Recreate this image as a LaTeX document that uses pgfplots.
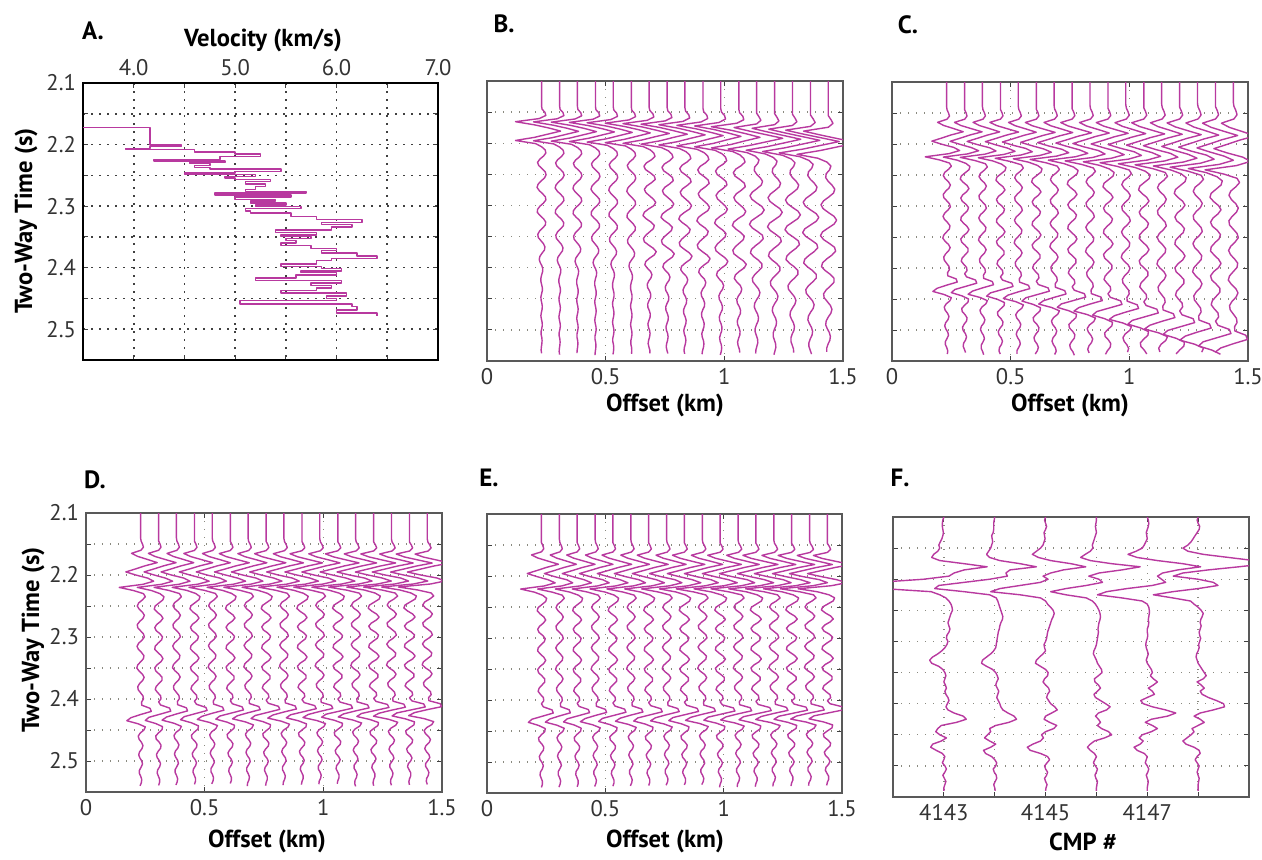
\documentclass[border=0pt]{standalone}
\usepackage{fontspec}
\setmainfont{PT Sans}
\usepackage{pgfplots}
\pgfplotsset{compat=1.18}
\usepackage{pgfplotstable}
\definecolor{wig}{HTML}{B8399F}
\definecolor{dotgrid}{HTML}{8A8A80}

% wiggle templates, amplitudes in 0.001 km
\pgfplotstableread{
t Bn Bm Bf
2.000 0 0 0
2.100 0 0 0
2.140 0 0 0
2.145 2 3 0
2.150 14 16 10
2.155 18 20 18
2.160 -10 -8 0
2.165 -110 -110 -95
2.170 -30 -30 -30
2.175 30 30 40
2.180 80 85 110
2.185 25 25 40
2.190 -30 -30 -30
2.195 -110 -110 -120
2.200 -25 -25 -40
2.205 0 5 -5
2.210 15 20 10
2.215 18 25 5
2.220 8 10 -8
2.225 -8 -12 -10
2.230 -17 -22 0
2.235 -12 -15 15
2.240 2 5 25
2.245 15 22 20
2.250 19 26 2
2.255 12 10 -18
2.260 -3 -10 -28
2.265 -15 -20 -20
2.270 -19 -14 0
2.275 -10 2 22
2.280 4 18 32
2.285 16 28 22
2.290 18 20 0
2.295 8 -2 -22
2.300 -7 -20 -30
2.305 -17 -26 -18
2.310 -18 -12 4
2.315 -6 8 24
2.320 8 22 28
2.325 17 18 14
2.330 16 2 -6
2.335 4 -14 -22
2.340 -9 -24 -26
2.345 -16 -20 -12
2.350 -14 -2 8
2.355 -3 18 22
2.360 8 30 22
2.365 14 22 8
2.370 12 2 -8
2.375 2 -14 -18
2.380 -7 -18 -16
2.385 -10 -8 -4
2.390 -6 6 8
2.395 1 12 14
2.400 5 8 10
2.405 4 -2 0
2.410 0 -8 -8
2.415 -3 -6 -10
2.420 -3 2 -4
2.425 0 7 4
2.430 3 6 8
2.435 3 -1 6
2.440 0 -6 -1
2.445 -3 -5 -6
2.450 -2 1 -6
2.455 1 5 -1
2.460 3 4 4
2.465 2 -1 5
2.470 -1 -5 1
2.475 -3 -3 -3
2.480 -1 2 -4
2.485 2 4 -1
2.490 3 2 3
2.495 1 -2 3
2.500 -2 -4 0
2.505 -2 -1 -2
2.510 1 3 -2
2.515 2 3 1
2.520 1 0 2
2.525 -1 -3 1
2.530 -2 -2 -1
2.535 0 1 -1
2.540 2 2 1
2.545 1 1 1
2.550 0 0 0
2.560 0 0 0
}\tabB

\pgfplotstableread{
t W1 W2
2.000 0 0
2.100 0 0
2.140 0 0
2.145 2 0
2.150 8 6
2.155 12 10
2.160 2 0
2.165 -38 -42
2.170 -12 -15
2.175 30 28
2.180 70 72
2.185 20 22
2.190 -20 -18
2.195 -62 -60
2.200 -20 -18
2.205 30 28
2.210 55 58
2.215 10 12
2.220 -90 -88
2.225 -30 -30
2.230 12 5
2.235 20 22
2.240 8 18
2.245 -8 2
2.250 -14 -14
2.255 -6 -18
2.260 8 -6
2.265 16 10
2.270 10 18
2.275 -4 8
2.280 -14 -8
2.285 -12 -16
2.290 0 -10
2.295 12 6
2.300 16 16
2.305 6 12
2.310 -8 -2
2.315 -15 -14
2.320 -9 -16
2.325 4 -4
2.330 14 10
2.335 12 18
2.340 0 10
2.345 -12 -6
2.350 -16 -16
2.355 -6 -12
2.360 8 2
2.365 15 14
2.370 9 14
2.375 -4 2
2.380 -12 -10
2.385 -10 -14
2.390 0 -4
2.395 10 8
2.400 12 10
2.405 4 0
2.410 5 8
2.415 40 45
2.420 45 50
2.425 0 5
2.430 -40 -40
2.435 -58 -55
2.440 -10 -12
2.445 20 16
2.450 14 14
2.455 -2 0
2.460 -10 -12
2.465 -6 -10
2.470 4 2
2.475 10 10
2.480 6 8
2.485 -4 -2
2.490 -8 -9
2.495 -3 -6
2.500 5 3
2.505 8 8
2.510 2 4
2.515 -5 -4
2.520 -5 -6
2.525 1 -1
2.530 5 4
2.535 3 4
2.540 -2 0
2.545 -3 -2
2.550 0 0
2.560 0 0
}\tabW

% stacked traces, amplitudes in 0.01 CMP
\pgfplotstableread{
t f1 f2 f3 f4 f5 f6
2.000 0 0 0 0 0 0
2.100 0 0 0 0 0 0
2.105 -2 -1 -2 0 2 -2
2.110 -3 -2 0 -1 3 0
2.115 -3 -2 2 -2 2 3
2.120 -2 -2 0 -1 0 2
2.125 -1 -3 -3 0 -2 -2
2.130 -2 -6 -2 -2 -1 -6
2.135 -4 -5 -1 -4 0 -10
2.140 -7 -4 -3 -6 -3 -14
2.145 -10 -6 -5 -8 -6 -20
2.150 -8 -8 -10 -7 -10 -30
2.155 -12 -12 -18 -12 -22 -20
2.160 -20 -16 -26 -22 -38 10
2.165 -24 -10 -14 -31 -20 60
2.170 -8 10 10 -12 20 110
2.175 40 50 50 30 70 135
2.180 85 82 79 86 105 80
2.185 40 30 35 50 60 20
2.190 20 22 10 5 30 -30
2.195 10 25 -5 -15 20 -49
2.200 -40 -10 5 5 28 0
2.205 -130 -60 -10 12 36 30
2.210 -170 -110 -50 -20 10 39
2.215 -120 -118 -90 -60 -40 0
2.220 -25 -60 -108 -90 -80 -50
2.225 -8 -10 -50 -60 -98 -88
2.230 4 3 -10 -20 -50 -50
2.235 10 6 0 -8 -10 -15
2.240 14 8 4 -2 0 -8
2.245 16 10 10 2 3 0
2.250 17 12 15 5 4 6
2.255 14 14 17 7 4 10
2.260 12 16 15 8 3 8
2.265 10 15 12 7 2 5
2.270 8 12 10 5 3 4
2.275 10 10 8 4 2 6
2.280 12 9 6 3 0 4
2.285 10 7 4 4 0 2
2.290 6 6 3 3 1 3
2.295 5 5 2 2 0 5
2.300 8 4 0 1 -2 3
2.305 6 3 -3 0 -3 1
2.310 2 2 -2 -2 -2 2
2.315 -4 -2 0 -5 0 0
2.320 -12 -8 -5 -6 2 -3
2.325 -22 -16 -12 -3 0 -4
2.330 -28 -24 -18 0 -2 -2
2.335 -24 -26 -20 2 0 0
2.340 -10 -16 -10 6 4 4
2.345 -2 -4 0 10 8 8
2.350 2 2 5 11 10 12
2.355 4 5 4 4 6 16
2.360 2 7 -2 -4 12 10
2.365 0 4 -5 -3 20 -2
2.370 3 2 0 4 12 6
2.375 5 5 6 8 2 12
2.380 2 8 8 2 10 4
2.385 4 6 4 -5 14 8
2.390 8 4 2 -2 0 20
2.395 10 7 6 8 -13 36
2.400 7 10 10 18 -8 50
2.405 4 12 18 27 10 52
2.410 8 16 23 20 36 30
2.415 20 26 12 4 56 4
2.420 38 38 0 -2 40 -8
2.425 44 43 -3 4 8 4
2.430 25 28 8 8 -4 12
2.435 -5 2 22 2 10 0
2.440 -12 -10 16 10 20 -12
2.445 -16 -8 0 24 8 -8
2.450 -8 -14 -8 30 -10 -14
2.455 5 -20 -4 16 -16 -22
2.460 -5 -10 -10 -4 -8 -30
2.465 -22 2 -25 -12 -14 -24
2.470 -26 -8 -36 -18 -26 -8
2.475 -15 -22 -30 -12 -20 2
2.480 -3 -18 -10 -4 -6 4
2.485 2 -6 4 0 0 -2
2.490 0 0 8 -3 -2 -6
2.495 -3 4 3 -6 -4 -2
2.500 2 2 -2 -2 0 2
2.505 5 -3 0 2 3 0
2.510 2 -1 4 0 1 -2
2.515 -2 3 2 -3 -2 0
2.520 1 4 -2 -1 0 2
2.525 4 1 0 2 2 1
2.530 2 -2 3 1 1 0
2.535 0 0 1 0 0 0
2.540 0 1 0 0 0 0
2.550 0 0 0 0 0 0
}\tabF

\pgfplotsset{
  panel/.style={scale only axis, anchor=north west, y dir=reverse, ymin=2.1, ymax=2.55,
    ytick={2.1,2.2,2.3,2.4,2.5}, minor ytick={2.15,2.25,2.35,2.45},
    grid=both,
    grid style={dotgrid, line width=0.7pt, dash pattern=on 0.7pt off 3.3pt},
    minor grid style={dotgrid, line width=0.7pt, dash pattern=on 0.7pt off 3.3pt},
    tick align=inside, major tick length=2.5pt, minor tick length=2.5pt,
    tick style={black!75, line width=0.5pt},
    axis line style={black!65, line width=0.8pt},
    tick label style={font=\fontsize{11.3}{13}\selectfont, text=black!80},
    /pgf/number format/assume math mode=true,
    restrict y to domain=1.9:2.541},
  gather/.style={panel, xmin=0, xmax=1.5, xtick={0,0.5,1,1.5}},
  trace/.style={wig, line width=0.7pt, line join=round},
}
\tikzset{lab/.style={font=\fontsize{12.3}{14}\selectfont\bfseries, inner sep=1pt},
  letter/.style={font=\fontsize{12.5}{14}\selectfont\bfseries, inner sep=1pt}}
% table, column, trace position, gain, time shift, time stretch
\newcommand{\wig}[6]{\addplot[trace] table[x expr={#3+#4*\thisrow{#2}/1000}, y expr={2.2+#5+#6*(\thisrow{t}-2.2)}] {#1};}

\begin{document}
\begin{tikzpicture}
\path[use as bounding box] (0,0) rectangle (631pt,-429.5pt);

% A: interval velocity
\begin{axis}[panel, at={(41.5pt,-41.5pt)}, width=177.5pt, height=138.5pt,
  xmin=3.5, xmax=7, xtick={4,5,6,7}, minor xtick={4.5,5.5,6.5},
  xticklabel pos=right,
  xticklabel style={/pgf/number format/.cd, fixed, fixed zerofill, precision=1},
  axis line style={black, line width=1.1pt},
  grid style={black!75, line width=0.8pt, dash pattern=on 0.8pt off 3.2pt},
  minor grid style={black!75, line width=0.8pt, dash pattern=on 0.8pt off 3.2pt}]
\addplot[trace, line width=0.75pt, const plot mark left] coordinates {
(3.5,2.172) (4.16,2.201) (4.47,2.203) (4.16,2.206) (3.92,2.208) (4.6,2.212)
(5.0,2.215) (5.25,2.219) (4.85,2.224) (4.2,2.227) (4.9,2.229) (4.55,2.231)
(4.75,2.234) (4.6,2.237) (4.75,2.240) (5.45,2.244) (5.0,2.246) (4.5,2.249)
(5.2,2.252) (4.9,2.254) (5.0,2.257) (5.35,2.260) (5.1,2.264) (5.3,2.268)
(5.2,2.273) (5.1,2.276) (5.7,2.279) (4.8,2.282) (5.55,2.285) (5.0,2.289)
(5.4,2.292) (5.15,2.295) (5.5,2.298) (5.2,2.301) (5.65,2.304) (5.1,2.308)
(5.15,2.311) (5.55,2.317) (5.8,2.322) (6.25,2.327) (5.85,2.330) (6.15,2.334)
(5.95,2.339) (5.4,2.343) (5.8,2.347) (5.45,2.349) (5.75,2.353) (5.5,2.356)
(5.6,2.360) (5.45,2.364) (5.75,2.369) (6.0,2.372) (5.85,2.376) (6.2,2.381)
(6.4,2.385) (5.95,2.388) (5.8,2.394) (5.45,2.398) (5.85,2.401) (6.05,2.405)
(5.65,2.408) (6.0,2.412) (5.6,2.417) (5.2,2.421) (6.05,2.425) (5.75,2.429)
(5.95,2.433) (5.8,2.437) (5.45,2.441) (6.1,2.446) (5.9,2.450) (6.0,2.453)
(5.05,2.459) (6.15,2.463) (6.2,2.469) (6.0,2.474) (6.4,2.478)};
\end{axis}

% B
\begin{axis}[gather, at={(243.5pt,-40.5pt)}, width=178pt, height=140pt, yticklabels={}]
\wig{\tabB}{Bn}{0.230}{1}{0.0006}{1.006}
\wig{\tabB}{Bn}{0.306}{1}{0.0011}{1.011}
\wig{\tabB}{Bn}{0.381}{1}{0.0017}{1.017}
\wig{\tabB}{Bn}{0.457}{1}{0.0024}{1.025}
\wig{\tabB}{Bn}{0.532}{1}{0.0033}{1.034}
\wig{\tabB}{Bn}{0.608}{1}{0.0043}{1.044}
\wig{\tabB}{Bm}{0.683}{1}{0.0054}{1.055}
\wig{\tabB}{Bm}{0.759}{1}{0.0068}{1.068}
\wig{\tabB}{Bm}{0.834}{1}{0.0082}{1.083}
\wig{\tabB}{Bm}{0.910}{1}{0.0097}{1.098}
\wig{\tabB}{Bm}{0.985}{1}{0.0113}{1.115}
\wig{\tabB}{Bm}{1.061}{1.05}{0.0132}{1.134}
\wig{\tabB}{Bf}{1.136}{1}{0.0151}{1.153}
\wig{\tabB}{Bf}{1.212}{1}{0.0171}{1.174}
\wig{\tabB}{Bf}{1.287}{1.05}{0.0193}{1.197}
\wig{\tabB}{Bf}{1.363}{1.1}{0.0217}{1.220}
\wig{\tabB}{Bf}{1.438}{1.1}{0.0241}{1.245}
\end{axis}

% C
\begin{axis}[gather, at={(446pt,-41pt)}, width=178pt, height=139.5pt, yticklabels={}]
\wig{\tabW}{W1}{0.230}{1.00}{0.0004}{1.010}
\wig{\tabW}{W2}{0.306}{1.02}{0.0007}{1.017}
\wig{\tabW}{W1}{0.381}{1.04}{0.0010}{1.027}
\wig{\tabW}{W2}{0.457}{1.06}{0.0014}{1.038}
\wig{\tabW}{W1}{0.532}{1.08}{0.0020}{1.051}
\wig{\tabW}{W2}{0.608}{1.10}{0.0026}{1.067}
\wig{\tabW}{W1}{0.683}{1.12}{0.0032}{1.085}
\wig{\tabW}{W2}{0.759}{1.14}{0.0040}{1.104}
\wig{\tabW}{W1}{0.834}{1.16}{0.0048}{1.126}
\wig{\tabW}{W2}{0.910}{1.18}{0.0057}{1.150}
\wig{\tabW}{W1}{0.985}{1.20}{0.0067}{1.175}
\wig{\tabW}{W2}{1.061}{1.22}{0.0078}{1.203}
\wig{\tabW}{W1}{1.136}{1.24}{0.0089}{1.232}
\wig{\tabW}{W2}{1.212}{1.26}{0.0102}{1.263}
\wig{\tabW}{W1}{1.287}{1.28}{0.0115}{1.297}
\wig{\tabW}{W2}{1.363}{1.30}{0.0129}{1.331}
\wig{\tabW}{W1}{1.438}{1.32}{0.0143}{1.368}
\end{axis}

% D
\begin{axis}[gather, at={(43pt,-256.5pt)}, width=178pt, height=139.5pt]
\wig{\tabW}{W1}{0.230}{1.000}{0}{1.000}
\wig{\tabW}{W2}{0.306}{1.022}{0}{0.998}
\wig{\tabW}{W1}{0.381}{1.044}{0}{0.996}
\wig{\tabW}{W2}{0.457}{1.066}{0}{0.993}
\wig{\tabW}{W1}{0.532}{1.088}{0}{0.991}
\wig{\tabW}{W2}{0.608}{1.110}{0}{0.989}
\wig{\tabW}{W1}{0.683}{1.132}{0}{0.987}
\wig{\tabW}{W2}{0.759}{1.154}{0}{0.985}
\wig{\tabW}{W1}{0.834}{1.176}{0}{0.982}
\wig{\tabW}{W2}{0.910}{1.198}{0}{0.980}
\wig{\tabW}{W1}{0.985}{1.220}{0}{0.978}
\wig{\tabW}{W2}{1.061}{1.242}{0}{0.976}
\wig{\tabW}{W1}{1.136}{1.264}{0}{0.974}
\wig{\tabW}{W2}{1.212}{1.286}{0}{0.971}
\wig{\tabW}{W1}{1.287}{1.308}{0}{0.969}
\wig{\tabW}{W2}{1.363}{1.330}{0}{0.967}
\wig{\tabW}{W1}{1.438}{1.352}{0}{0.965}
\end{axis}

% E
\begin{axis}[gather, at={(243.5pt,-257pt)}, width=177.5pt, height=139.5pt, yticklabels={}]
\wig{\tabW}{W2}{0.230}{1.000}{0.001}{1.000}
\wig{\tabW}{W1}{0.306}{1.025}{0.001}{0.9985}
\wig{\tabW}{W2}{0.381}{1.050}{0.001}{0.997}
\wig{\tabW}{W1}{0.457}{1.075}{0.001}{0.9955}
\wig{\tabW}{W2}{0.532}{1.100}{0.001}{0.994}
\wig{\tabW}{W1}{0.608}{1.125}{0.001}{0.9925}
\wig{\tabW}{W2}{0.683}{1.150}{0.001}{0.991}
\wig{\tabW}{W1}{0.759}{1.175}{0.001}{0.9895}
\wig{\tabW}{W2}{0.834}{1.200}{0.001}{0.988}
\wig{\tabW}{W1}{0.910}{1.225}{0.001}{0.9865}
\wig{\tabW}{W2}{0.985}{1.250}{0.001}{0.985}
\wig{\tabW}{W1}{1.061}{1.275}{0.001}{0.9835}
\wig{\tabW}{W2}{1.136}{1.300}{0.001}{0.982}
\wig{\tabW}{W1}{1.212}{1.325}{0.001}{0.9805}
\wig{\tabW}{W2}{1.287}{1.350}{0.001}{0.979}
\wig{\tabW}{W1}{1.363}{1.375}{0.001}{0.9775}
\wig{\tabW}{W2}{1.438}{1.400}{0.001}{0.976}
\end{axis}

% F: stacked traces
\begin{axis}[panel, at={(446.5pt,-258.5pt)}, width=178pt, height=140pt, yticklabels={},
  xmin=4142, xmax=4149, xtick={4143,4145,4147}, minor xtick={4144,4146,4148},
  xticklabels={4143,4145,4147}]
\addplot[trace] table[x expr={4143+\thisrow{f1}/100}, y=t] {\tabF};
\addplot[trace] table[x expr={4144+\thisrow{f2}/100}, y=t] {\tabF};
\addplot[trace] table[x expr={4145+\thisrow{f3}/100}, y=t] {\tabF};
\addplot[trace] table[x expr={4146+\thisrow{f4}/100}, y=t] {\tabF};
\addplot[trace] table[x expr={4147+\thisrow{f5}/100}, y=t] {\tabF};
\addplot[trace] table[x expr={4148+\thisrow{f6}/100}, y=t] {\tabF};
\end{axis}

\node[letter] at (46.5pt,-15.5pt) {A.};
\node[lab] at (131.5pt,-20pt) {Velocity (km/s)};
\node[lab, rotate=90] at (13pt,-110.5pt) {Two-Way Time (s)};
\node[letter] at (252pt,-12pt) {B.};
\node[letter] at (454pt,-12.5pt) {C.};
\node[lab] at (332.5pt,-202.5pt) {Offset (km)};
\node[lab] at (535pt,-202.5pt) {Offset (km)};
\node[letter] at (47.5pt,-240pt) {D.};
\node[letter] at (244.5pt,-239pt) {E.};
\node[letter] at (450pt,-239pt) {F.};
\node[lab, rotate=90] at (16.5pt,-320pt) {Two-Way Time (s)};
\node[lab] at (133.5pt,-420.5pt) {Offset (km)};
\node[lab] at (332.5pt,-420.5pt) {Offset (km)};
\node[lab] at (541.5pt,-421pt) {CMP \#};
\end{tikzpicture}
\end{document}
